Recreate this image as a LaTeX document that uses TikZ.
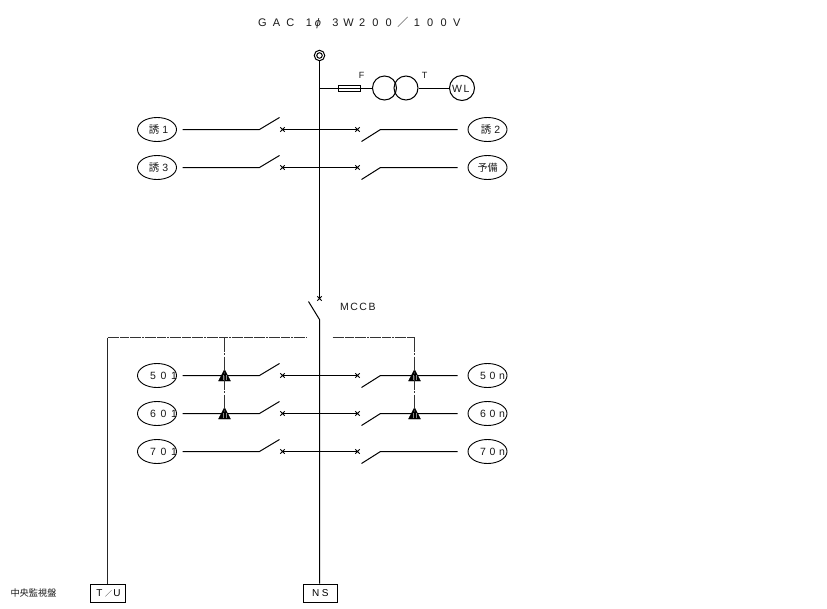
\documentclass[tikz,border=0pt]{standalone}
\usepackage{fontspec}
\setmainfont{Liberation Sans}
\newfontfamily\cjk{Noto Sans CJK JP}
\usetikzlibrary{shapes.geometric,shapes.misc}
\newcommand\wc[2]{\makebox[#1pt]{#2}}
\tikzset{
 wire/.style={line width=1pt,black},
 ctl/.style={line width=1pt,black!80,dash pattern=on 14pt off 1.5pt on 2pt off 1.5pt},
 top/.style={line width=1pt,black!80,dash pattern=on 9pt off 0.7pt on 2pt off 0.7pt},
 ov/.style={draw,ellipse,line width=0.9pt,minimum width=39pt,minimum height=24pt,inner sep=0pt},
 xm/.style={cross out,draw,line width=0.9pt,minimum size=3.5pt,inner sep=0pt},
 lab/.style={inner sep=0pt,font=\fontsize{10.5pt}{11pt}\selectfont,text=black!90},
 boxn/.style={draw,line width=1pt,inner sep=0pt,minimum width=34.5pt,minimum height=18pt},
 circ/.style={draw,circle,line width=1pt,inner sep=0pt},
 tri/.style={fill=black,draw=black,line width=0.4pt},
}
% left branch: name, y, label x, label
\newcommand\leftrow[4]{%
 \node[ov] (#1) at (156.5,#2) {};
 \node[lab] (#1t) at (#3,#2) {#4};
 \node[xm] (#1x) at (282,#2) {};
 \coordinate (#1a) at (259,#2);
 \coordinate (#1b) at (279,#2-12);
 \coordinate (#1s) at (182,#2);
 \coordinate (#1c) at (319,#2);
 \draw[wire] (#1s) -- (#1a) -- (#1b);
 \draw[wire] (#1x.center) -- (#1c);
}
\newcommand\rightrow[4]{%
 \node[ov] (#1) at (487,#2) {};
 \node[lab] (#1t) at (#3,#2) {#4};
 \node[xm] (#1x) at (357,#2) {};
 \coordinate (#1a) at (380,#2);
 \coordinate (#1b) at (361,#2+12);
 \coordinate (#1s) at (457,#2);
 \coordinate (#1c) at (319,#2);
 \draw[wire] (#1s) -- (#1a) -- (#1b);
 \draw[wire] (#1x.center) -- (#1c);
}
\newcommand\trimark[2]{%
 \coordinate (#1) at (#2);
 \fill[tri] ([yshift=6pt]#1) -- ([shift={(-6pt,-5.5pt)}]#1) -- ([shift={(6pt,-5.5pt)}]#1) -- cycle;
 \draw[black!45,line width=0.4pt] ([shift={(-1.8pt,-4.8pt)}]#1) -- ([shift={(-1.8pt,0.5pt)}]#1)
   ([shift={(1.8pt,-4.8pt)}]#1) -- ([shift={(1.8pt,0.5pt)}]#1);
}
\begin{document}
\begin{tikzpicture}[x=1pt,y=-1pt]
\useasboundingbox (0,0) rectangle (827,608);
\begin{scope}[shift={(0.5,0.5)}]
% title
\node[inner sep=0pt,font=\fontsize{11pt}{12pt}\selectfont,text=black!90] (title) at (359,22)
 {\wc{14}{G}\wc{14}{A}\wc{14}{C}\hspace{7pt}\wc{9}{1}\wc{9}{\textit{ϕ}}\hspace{7pt}\wc{12}{3}\wc{14}{W}\wc{13.3}{2}\wc{13.3}{0}\wc{13.3}{0}\wc{15}{\cjk ／}\wc{13.3}{1}\wc{13.3}{0}\wc{13.3}{0}\wc{13.3}{V}};
% source and bus
\node[circ,minimum size=10.5pt] (src) at (319,55) {};
\node[circ,minimum size=5.5pt] (srci) at (319,55) {};
\node[xm] (mx) at (319,298) {};
\coordinate (bladetop) at (308,301);
\coordinate (bladebot) at (319,319);
\node[boxn] (ns) at (320,592.5) {\wc{9.5}{N}\wc{9.5}{S}};
\draw[wire] (src) -- (mx.center);
\draw[wire] (bladetop) -- (bladebot) -- (ns.north-|bladebot);
\node[lab] (mccb) at (357.5,306.5) {\wc{10.5}{M}\wc{9}{C}\wc{9}{C}\wc{9}{B}};
% fuse, transformer, WL
\coordinate (tap) at (319,87.5);
\node[draw,line width=0.9pt,inner sep=0pt,minimum width=22pt,minimum height=6pt] (fuse) at (349,87.5) {};
\node[circ,minimum size=24pt] (t1) at (384,87.5) {};
\node[circ,minimum size=24pt] (t2) at (405.5,87.5) {};
\node[circ,minimum size=25pt] (wl) at (461.5,87.5) {};
\node[lab] (wlt) at (461,88) {\wc{10}{W}\wc{9}{L}};
\draw[wire] (tap) -- (t1);
\draw[wire] (t2) -- (wl);
\node[lab,font=\fontsize{9pt}{10pt}\selectfont] (f) at (361,75) {F};
\node[lab,font=\fontsize{9pt}{10pt}\selectfont] (t) at (424,75) {T};
% upper branches
\leftrow{a}{129}{158}{{\cjk 誘}\hspace{3pt}1}
\leftrow{b}{167}{158}{{\cjk 誘}\hspace{3pt}3}
\rightrow{c}{129}{490}{{\cjk 誘}\hspace{3pt}2}
\rightrow{d}{167}{487}{{\cjk\fontsize{10pt}{11pt}\selectfont 予備}}
% lower branches
\leftrow{e}{375}{163}{\wc{10.5}{5}\wc{10.5}{0}\wc{10.5}{1}}
\leftrow{g}{413}{163}{\wc{10.5}{6}\wc{10.5}{0}\wc{10.5}{1}}
\leftrow{i}{451}{163}{\wc{10.5}{7}\wc{10.5}{0}\wc{10.5}{1}}
\rightrow{h}{375}{492}{\wc{9.5}{5}\wc{9.5}{0}\wc{9.5}{n}}
\rightrow{j}{413}{492}{\wc{9.5}{6}\wc{9.5}{0}\wc{9.5}{n}}
\rightrow{k}{451}{492}{\wc{9.5}{7}\wc{9.5}{0}\wc{9.5}{n}}
% interlock triangles
\trimark{te}{224,375}
\trimark{tg}{224,413}
\trimark{th}{414,375}
\trimark{tj}{414,413}
% control lines
\node[boxn] (tu) at (107.5,593) {\wc{10}{T}\wc{8}{\cjk\fontsize{7pt}{8pt}\selectfont ／}\wc{9}{U}};
\coordinate (cl) at (107,337);
\coordinate (cla) at (224,337);
\coordinate (cle) at (306,337);
\coordinate (crs) at (332,337);
\coordinate (crb) at (414,337);
\draw[line width=1pt,black!85] (cl) -- (tu.north-|cl);
\draw[top] (cl) -- (cla) -- (cle);
\draw[top] (crs) -- (crb);
\draw[ctl] (cla) -- (te);
\draw[ctl] (te) -- (tg);
\draw[ctl] (crb) -- (th);
\draw[ctl] (th) -- (tj);
\node[inner sep=0pt,font=\cjk\fontsize{9.2pt}{10pt}\selectfont,text=black!90] (cp) at (33,592.5) {中央監視盤};
\end{scope}
\end{tikzpicture}
\end{document}
